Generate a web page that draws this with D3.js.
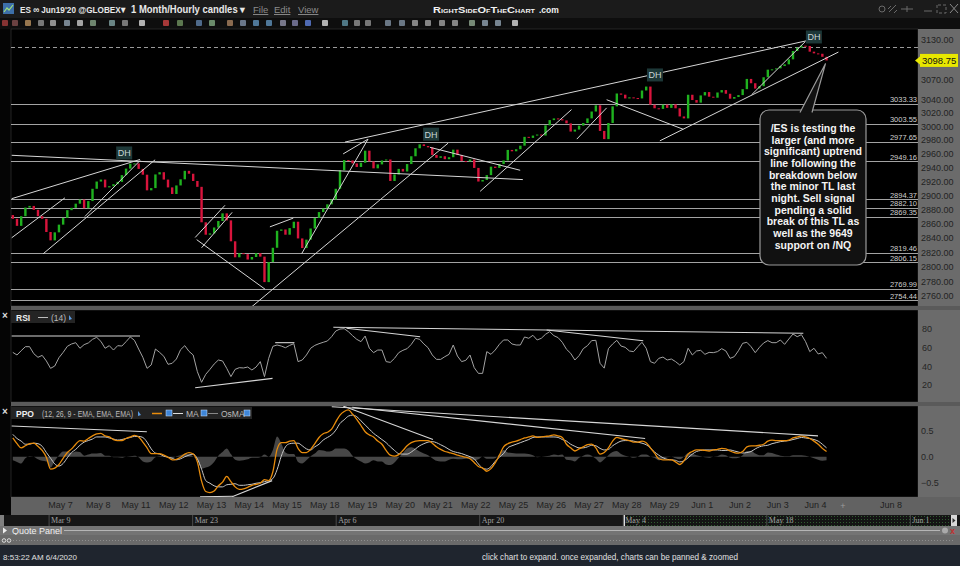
<!DOCTYPE html>
<html><head><meta charset="utf-8"><title>ES Jun19'20 1 Month/Hourly candles</title>
<script src="https://cdn.jsdelivr.net/npm/d3@7/dist/d3.min.js"></script>
<style>html,body{margin:0;padding:0;background:#000;overflow:hidden}svg{display:block}</style>
</head><body><svg id="chart" width="960" height="566"></svg>
<script>
// ================= DATA =================
const dayLabels = ["May 7","May 8","May 11","May 12","May 13","May 14","May 15","May 18","May 19","May 20","May 21","May 22","May 25","May 26","May 27","May 28","May 29","Jun 1","Jun 2","Jun 3","Jun 4","","Jun 8"];
const candlesPerDay = 9;      // one candle per ~2.6 trading hours
const firstCandleDay = -1.25; // session position of the first candle (May 7 = 0)
const firstOpen = 2872;
const closes = [
2866.7,2856.8,2870.4,2882.6,2884.9,2879.4,2870.4,2866.7,2848.2,2836.5,
2847.7,2858.5,2868.0,2878.9,2882.2,2888.1,2894.0,2881.6,2891.8,2909.3,
2919.7,2922.5,2911.3,2913.0,2915.9,2919.2,2928.9,2938.3,2945.4,2945.8,
2937.9,2929.5,2907.1,2910.3,2929.9,2933.1,2922.5,2911.3,2901.9,2914.1,
2922.9,2935.1,2930.9,2920.5,2912.1,2861.8,2844.4,2846.2,2854.5,2863.6,
2874.4,2864.5,2835.2,2813.0,2818.7,2817.4,2809.9,2813.4,2818.7,2813.9,
2778.9,2806.4,2826.2,2849.9,2851.7,2844.4,2853.6,2862.6,2839.2,2825.8,
2837.5,2853.1,2868.0,2876.2,2881.2,2887.2,2894.0,2909.3,2935.9,2950.6,
2950.1,2945.8,2940.7,2946.8,2964.3,2948.7,2938.7,2944.4,2950.1,2951.5,
2920.5,2929.9,2937.9,2934.1,2944.9,2956.2,2967.8,2973.6,2971.1,2969.2,
2958.1,2953.9,2956.2,2951.9,2954.8,2965.8,2958.1,2949.2,2948.7,2951.5,
2939.3,2919.7,2921.9,2928.9,2941.1,2939.3,2944.9,2950.1,2965.4,2963.4,
2966.4,2971.6,2984.5,2983.0,2986.4,2987.9,2986.4,3001.4,3009.2,3011.7,
3010.5,3008.7,3004.4,2992.3,2995.2,3001.0,3004.9,3011.7,3021.9,3031.1,
2993.2,2981.2,3004.9,3029.6,3048.8,3047.0,3041.4,3043.0,3042.0,3041.4,
3053.3,3059.2,3032.1,3026.7,3025.8,3032.1,3027.3,3032.6,3026.7,3014.6,
3011.7,3046.9,3039.0,3035.1,3045.9,3050.9,3044.0,3042.5,3050.3,3053.9,
3048.4,3041.0,3043.5,3046.4,3055.3,3070.7,3064.2,3056.2,3059.7,3073.2,
3084.7,3085.2,3086.7,3090.2,3092.8,3100.4,3113.1,3118.2,3121.2,3120.8,
3112.1,3109.5,3108.9,3104.3,3098.75];
const rsi14 = [
54.9,52.1,56.7,61.0,61.0,53.5,49.6,51.7,45.7,37.8,
40.3,49.2,54.9,61.4,63.9,65.3,59.3,63.2,65.0,68.9,
71.0,66.7,59.3,62.1,57.4,62.1,61.7,66.4,71.4,67.8,
58.5,49.6,37.8,41.4,58.5,54.9,50.7,42.1,43.2,47.8,
57.8,62.1,56.0,52.1,34.2,22.8,31.4,36.7,42.4,46.7,
45.7,37.8,28.9,36.7,38.5,38.2,39.2,36.0,39.2,45.0,
28.9,48.5,61.4,62.8,61.7,59.9,62.4,64.2,45.0,46.7,
52.1,59.3,62.4,64.2,65.7,67.1,71.7,77.8,79.9,80.3,
77.1,72.8,68.9,66.4,72.4,59.3,54.6,57.4,57.4,45.0,
44.2,48.5,54.6,57.1,58.9,63.5,70.0,68.9,63.9,59.9,
52.1,47.4,47.4,50.3,52.8,62.8,51.0,45.0,46.4,52.1,
38.5,32.4,32.4,55.7,52.8,57.4,63.5,68.2,68.2,63.9,
62.8,62.8,71.4,70.0,73.2,68.2,70.0,74.3,77.1,72.8,
70.7,65.7,58.2,53.9,46.7,51.4,58.9,62.1,67.5,67.8,
43.2,38.0,58.9,63.9,67.8,61.7,60.3,56.4,55.7,61.0,
65.7,59.3,45.0,43.2,48.5,49.9,46.7,47.8,45.0,41.4,
45.0,59.3,52.1,56.4,57.1,52.8,54.9,54.6,55.7,58.9,
56.4,48.5,50.3,56.7,64.6,65.7,61.0,54.6,60.3,65.0,
67.5,65.3,65.3,68.2,63.5,69.2,74.6,71.7,73.9,66.4,
55.7,59.3,53.2,54.6,48.5];
const ppoLine = [
0.36,0.25,0.17,0.21,0.25,0.26,0.20,0.12,-0.01,-0.24,
-0.22,-0.15,-0.03,0.08,0.15,0.24,0.31,0.30,0.35,0.40,
0.44,0.45,0.40,0.38,0.33,0.31,0.31,0.35,0.38,0.41,
0.38,0.28,0.17,0.06,0.06,0.06,0.03,-0.01,-0.06,-0.05,
-0.01,0.05,0.08,0.05,-0.10,-0.47,-0.67,-0.69,-0.66,-0.56,
-0.49,-0.38,-0.48,-0.58,-0.63,-0.62,-0.59,-0.55,-0.53,-0.51,
-0.44,-0.46,-0.29,0.14,0.27,0.27,0.30,0.31,0.16,0.08,
0.08,0.14,0.25,0.37,0.44,0.47,0.53,0.67,0.80,0.87,
0.90,0.82,0.72,0.60,0.48,0.42,0.38,0.30,0.24,0.12,
0.03,0.01,0.04,0.12,0.21,0.27,0.30,0.31,0.31,0.31,
0.26,0.19,0.14,0.10,0.08,0.06,0.03,0.01,-0.01,-0.04,
-0.11,-0.19,-0.22,-0.28,-0.23,-0.12,0.03,0.19,0.25,0.28,
0.30,0.33,0.36,0.38,0.40,0.37,0.38,0.39,0.40,0.42,
0.40,0.37,0.24,0.17,0.11,0.15,0.19,0.23,0.24,0.17,
0.05,0.08,0.17,0.30,0.37,0.35,0.33,0.31,0.28,0.28,
0.30,0.27,0.17,0.07,-0.04,-0.06,-0.06,-0.06,-0.10,-0.15,
-0.08,0.05,0.10,0.13,0.13,0.12,0.11,0.13,0.14,0.16,
0.15,0.11,0.08,0.07,0.10,0.19,0.21,0.21,0.22,0.24,
0.30,0.32,0.31,0.31,0.31,0.32,0.36,0.38,0.40,0.38,
0.35,0.30,0.24,0.16,0.10];
const ppoMA = [
0.43,0.35,0.30,0.24,0.24,0.26,0.25,0.20,0.08,-0.03,
-0.14,-0.18,-0.13,-0.02,0.08,0.14,0.22,0.28,0.31,0.34,
0.38,0.38,0.38,0.36,0.34,0.32,0.33,0.35,0.37,0.39,
0.39,0.37,0.28,0.15,0.07,0.05,0.01,-0.01,-0.03,-0.06,
-0.04,0.00,0.03,0.05,-0.04,-0.24,-0.46,-0.51,-0.56,-0.58,
-0.58,-0.54,-0.53,-0.52,-0.55,-0.55,-0.54,-0.53,-0.51,-0.50,
-0.48,-0.46,-0.42,-0.25,0.01,0.19,0.25,0.26,0.26,0.21,
0.15,0.13,0.19,0.24,0.32,0.37,0.42,0.51,0.64,0.71,
0.78,0.80,0.77,0.69,0.61,0.53,0.45,0.39,0.33,0.27,
0.19,0.12,0.06,0.05,0.05,0.09,0.15,0.21,0.25,0.28,
0.29,0.27,0.23,0.19,0.14,0.10,0.08,0.06,0.03,0.00,
-0.04,-0.14,-0.22,-0.24,-0.19,-0.09,-0.01,0.06,0.17,0.21,
0.24,0.27,0.30,0.33,0.37,0.38,0.38,0.38,0.38,0.38,
0.37,0.33,0.30,0.24,0.20,0.17,0.17,0.19,0.22,0.21,
0.16,0.13,0.14,0.21,0.26,0.30,0.31,0.31,0.30,0.28,
0.26,0.23,0.17,0.09,0.03,-0.02,-0.05,-0.06,-0.07,-0.10,
-0.08,-0.02,0.05,0.10,0.12,0.13,0.13,0.13,0.13,0.12,
0.12,0.13,0.11,0.09,0.07,0.08,0.10,0.15,0.19,0.21,
0.22,0.25,0.27,0.29,0.30,0.31,0.33,0.35,0.37,0.36,
0.35,0.33,0.30,0.24,0.17];
const priceTicks = [3130,3070,3040,3020,3000,2980,2960,2940,2920,2900,2880,2860,2840,2820,2800,2780,2760];
const levels = [3033.33,3003.55,2977.65,2949.16,2894.37,2882.10,2869.35,2819.46,2806.15,2769.99,2754.44];
const dashedLevel = 3120;
const lastPrice = 3098.75;
const rsiTicks = [80,60,40,20];
const ppoTicks = [0.5,0,-0.5];
// drawn trendlines: [day, value, day, value]
const priceTrend = [
[-1.28,2957.6,12.26,2922.5],[-1.28,2895.2,2.12,2951.5],[-1.28,2840.1,0.13,2896.4],
[-0.45,2817.7,2.52,2951.1],[0.66,2870.0,2.12,2950.0],[3.58,2840.5,4.37,2885.8],
[3.75,2826.2,4.56,2875.8],[3.62,2837.5,5.43,2769.3],[5.08,2745.5,10.28,2975.3],
[5.56,2855.4,6.18,2867.7],[6.40,2817.9,8.16,2981.2],[7.50,2959.6,8.16,2981.2],
[7.55,2976.9,19.87,3130.0],[9.80,2969.2,12.19,2935.9],[11.13,2905.7,13.55,3024.8],
[13.69,2981.2,14.48,3027.3],[14.48,3039.5,16.51,2995.6],[15.89,2978.7,20.62,3111.5],
[18.32,3046.9,19.74,3127.4]];
const rsiTrend = [[-1.28,72.5,2.12,72.5],[3.58,17.0,5.63,27.0],[5.70,65.3,6.21,65.3],
[7.24,81.8,19.69,75.4],[7.59,80.7,9.54,71.7],[12.89,78.9,15.45,67.4]];
const ppoTrend = [[-1.28,0.59,2.30,0.48],[3.71,-0.77,4.58,-0.76],[4.56,-0.77,5.62,-0.46],
[7.20,0.96,20.08,0.40],[7.50,0.975,9.88,0.33],[7.74,0.95,15.50,0.35]];
const dhMarks = [[1.70,2961],[9.83,2988.4],[15.76,3076.7],[19.97,3134.7]];
const navDates = ["2020-03-09","2020-03-23","2020-04-06","2020-04-20","2020-05-04","2020-05-18","2020-06-01"];
const noteLines = ["/ES is testing the","larger (and more","significant) uptrend","line following the","breakdown below","the minor TL last","night. Sell signal","pending a solid","break of this TL as","well as the 9649","support on /NQ"];

// ================= DRAW =================
const F = "'Liberation Sans', Arial, sans-serif";
const svg = d3.select("#chart").attr("font-family", F);
const L = 11, R = 918;

svg.append("rect").attr("width",960).attr("height",566).attr("fill","#4a4a4a");

// title bar
svg.append("rect").attr("x",0).attr("y",0).attr("width",960).attr("height",18).attr("fill","#1b1b1b");
svg.append("rect").attr("x",3).attr("y",3).attr("width",11).attr("height",11).attr("fill","#3d6fa8");
svg.append("path").attr("d","M4,12 L7,8 L9,10 L13,5").attr("stroke","#9fe07a").attr("fill","none").attr("stroke-width",1.2);
svg.append("text").attr("x",20).attr("y",13).attr("font-size",9.5).attr("font-weight","bold").attr("fill","#e8e8e8")
  .attr("textLength",105).attr("lengthAdjust","spacingAndGlyphs").text("ES \u221E Jun19'20 @GLOBEX\u25BE");
svg.append("text").attr("x",131).attr("y",13).attr("font-size",10).attr("font-weight","bold").attr("fill","#e8e8e8")
  .attr("textLength",114).attr("lengthAdjust","spacingAndGlyphs").text("1 Month/Hourly candles \u25BE");
[["File",253],["Edit",274],["View",298]].forEach(([t,xx])=>{
  svg.append("text").attr("x",xx).attr("y",13).attr("font-size",9.5).attr("fill","#8c8c8c").attr("text-decoration","underline").text(t);
});
svg.append("text").attr("x",433).attr("y",13).attr("font-weight","bold").attr("fill","#f2f2f2").attr("font-size",9.2)
  .style("font-variant","small-caps").attr("textLength",102).attr("lengthAdjust","spacingAndGlyphs").text("RightSideOfTheChart");
svg.append("text").attr("x",539).attr("y",13).attr("font-size",8.5).attr("font-weight","bold").attr("fill","#f2f2f2").text(".com");
// window icons
const ic = svg.append("g").attr("stroke","#6a6a6a").attr("fill","none").attr("stroke-width",1);
ic.append("circle").attr("cx",882).attr("cy",9).attr("r",3);
ic.append("path").attr("d","M889,12 L896,5 M888,9 L891,6 M894,13 L897,10");
ic.append("path").attr("d","M901,9 L913,9 M907,6 L907,12");
ic.append("path").attr("d","M924,11 L932,11");
ic.append("path").attr("d","M937,5 L937,13 L946,13 L946,5 Z").attr("stroke-dasharray","3,2");
ic.append("path").attr("d","M950,4 L958,13 M958,4 L950,13").attr("stroke","#8a8a8a");

// toolbar
svg.append("rect").attr("x",0).attr("y",18).attr("width",960).attr("height",11).attr("fill","#0e0e0e");
const tbX = [5,15,28,41,53,67,80,93,112,125,142,166,180,199,212,230,243,256,269,283,295,308,325,345,357,368,388,402,415,428,442,455,472,485,498,515];
const tbC = ["#9a3a3a","#7a4a4a","#b08a5a","#8a8a8a","#a8a8a8","#8a9aa8","#bdbdbd","#7f9a7f","#7a9a9a","#8a8a8a","#cfcfcf","#c04040","#6a8a5a","#5a7aa0","#7aa07a","#a07a5a","#7a8aa0","#5a8ab0","#5a8ab0","#8a8aa0","#7a7aa0","#5a7ad0","#cfcfcf","#5a8a9a","#8a8a8a","#8a8a8a","#7a8a9a","#7a8a9a","#9a9a9a","#9a9a9a","#9a9a9a","#9a9a9a","#8aa08a","#8a9aa8","#8a9aa8","#cfcfcf"];
tbX.forEach((xx,i)=>svg.append("rect").attr("x",xx-3).attr("y",20).attr("width",6).attr("height",6).attr("rx",1).attr("fill",tbC[i]).attr("opacity",0.85));

// panel frames
const panels = [[29,306],[310,402],[406,497]];
svg.append("rect").attr("x",0).attr("y",29).attr("width",L).attr("height",486).attr("fill","#050505");
panels.forEach(([a,b])=>{
  svg.append("rect").attr("x",L).attr("y",a).attr("width",R-L).attr("height",b-a).attr("fill","#000").attr("stroke","#3a3a3a").attr("stroke-width",0.6);
  svg.append("rect").attr("x",R).attr("y",a).attr("width",960-R).attr("height",b-a).attr("fill","#6b6b6b");
});
svg.append("rect").attr("x",L).attr("y",306).attr("width",960-L).attr("height",4).attr("fill","#5a5a5a");
svg.append("rect").attr("x",L).attr("y",402).attr("width",960-L).attr("height",4).attr("fill","#5a5a5a");
svg.append("rect").attr("x",L).attr("y",497).attr("width",960-L).attr("height",18).attr("fill","#626262");

// scales
const x = d3.scaleLinear().domain([-1.298, 22.728]).range([L, R]);
const yP = d3.scaleLog().domain([2760, 3130]).range([296, 40]);
const yR = d3.scaleLinear().domain([0, 100]).range([403.6, 310.3]);
const yO = d3.scaleLinear().domain([-0.5, 0.5]).range([482.7, 430.7]);
const tAt = i => firstCandleDay + i / candlesPerDay;

const defs = svg.append("defs");
panels.forEach(([a,b],k)=>defs.append("clipPath").attr("id","cp"+k).append("rect").attr("x",L).attr("y",a).attr("width",R-L).attr("height",b-a));

// ---------- price panel ----------
const gP = svg.append("g").attr("clip-path","url(#cp0)");
gP.selectAll("line.lv").data(levels).join("line").attr("class","lv")
  .attr("x1",L).attr("x2",R).attr("y1",d=>Math.round(yP(d))+0.5).attr("y2",d=>Math.round(yP(d))+0.5)
  .attr("stroke","#a3a3a3").attr("stroke-width",1);
gP.append("line").attr("x1",L).attr("x2",R).attr("y1",Math.round(yP(dashedLevel))+0.5).attr("y2",Math.round(yP(dashedLevel))+0.5)
  .attr("stroke","#9a9a9a").attr("stroke-dasharray","4,3");
gP.selectAll("text.lvl").data(levels).join("text").attr("class","lvl")
  .attr("x",R-1).attr("y",d=>yP(d)-1.5).attr("text-anchor","end").attr("font-size",7.5).attr("fill","#d0d0d0")
  .text(d=>d.toFixed(2));

const candles = closes.map((c,i)=>({t:tAt(i), o: i ? closes[i-1] : firstOpen, c}));
const cw = 2.4;
gP.selectAll("rect.cd").data(candles).join("rect").attr("class","cd")
  .attr("x",d=>x(d.t)-cw/2).attr("width",cw)
  .attr("y",d=>yP(Math.max(d.o,d.c))).attr("height",d=>Math.max(1,Math.abs(yP(d.o)-yP(d.c))))
  .attr("fill",d=>d.c>=d.o ? "#1fb21f" : "#d8143c");

gP.selectAll("line.tr").data(priceTrend).join("line").attr("class","tr")
  .attr("x1",d=>x(d[0])).attr("y1",d=>yP(d[1])).attr("x2",d=>x(d[2])).attr("y2",d=>yP(d[3]))
  .attr("stroke","#d6d6d6").attr("stroke-width",1);

const dh = gP.selectAll("g.dh").data(dhMarks).join("g").attr("class","dh")
  .attr("transform",d=>`translate(${x(d[0])},${yP(d[1])})`);
dh.append("rect").attr("x",-8).attr("y",-6.5).attr("width",16).attr("height",13).attr("fill","#1d3838");
dh.append("text").attr("y",3.3).attr("text-anchor","middle").attr("font-size",9).attr("fill","#c9d6d6").text("DH");

// price axis
const axP = svg.append("g").attr("transform",`translate(${R},0)`)
  .call(d3.axisRight(yP).tickValues(priceTicks).tickFormat(d3.format(".2f")).tickSize(0).tickPadding(3));
axP.select(".domain").remove();
axP.selectAll("text").attr("font-size",9).attr("font-family",F).attr("fill","#232323");
const lpY = yP(lastPrice);
svg.append("path").attr("d",`M${R-3},${lpY} L${R+2},${lpY-4} L${R+2},${lpY+4} Z`).attr("fill","#e8e800");
svg.append("rect").attr("x",R+2).attr("y",lpY-6.5).attr("width",38).attr("height",13).attr("fill","#e8e800");
svg.append("text").attr("x",R+4).attr("y",lpY+3.5).attr("font-size",9.5).attr("fill","#111").text(lastPrice.toFixed(2));

// callout
const n = closes.length;
const tipX = x(tAt(n-1)) - 1, tipY = yP(closes[n-1]) + 3;
svg.append("rect").attr("x",760).attr("y",110).attr("width",106).attr("height",155).attr("rx",9)
  .attr("fill","#111").attr("stroke","#9a9a9a").attr("stroke-width",1.2);
svg.append("path").attr("d",`M800,112.5 L${tipX},${tipY} L812,112.5`).attr("fill","#111").attr("stroke","#9a9a9a").attr("stroke-width",1.2);
svg.append("g").selectAll("text").data(noteLines).join("text")
  .attr("x",813).attr("y",(d,i)=>132+i*11.67).attr("text-anchor","middle")
  .attr("font-size",10.5).attr("font-weight","bold").attr("fill","#f4f4f4").text(d=>d);

// ---------- RSI panel ----------
const gR = svg.append("g").attr("clip-path","url(#cp1)");
gR.append("path").datum(rsi14).attr("fill","none").attr("stroke","#a2a2a2").attr("stroke-width",1)
  .attr("d",d3.line().x((d,i)=>x(tAt(i))).y(d=>yR(d)));
gR.selectAll("line.tr").data(rsiTrend).join("line").attr("class","tr")
  .attr("x1",d=>x(d[0])).attr("y1",d=>yR(d[1])).attr("x2",d=>x(d[2])).attr("y2",d=>yR(d[3]))
  .attr("stroke","#d6d6d6").attr("stroke-width",1.1);
const axR = svg.append("g").attr("transform",`translate(${R},0)`)
  .call(d3.axisRight(yR).tickValues(rsiTicks).tickSize(0).tickPadding(4));
axR.select(".domain").remove();
axR.selectAll("text").attr("font-size",9).attr("font-family",F).attr("fill","#262626");
svg.append("rect").attr("x",L).attr("y",311).attr("width",64).attr("height",12).attr("fill","#242424");
svg.append("text").attr("x",16).attr("y",320.5).attr("font-size",8.5).attr("font-weight","bold").attr("fill","#eee").text("RSI");
svg.append("line").attr("x1",38).attr("x2",48).attr("y1",317.5).attr("y2",317.5).attr("stroke","#bbb");
svg.append("text").attr("x",51).attr("y",320.5).attr("font-size",8.5).attr("fill","#bbb").text("(14)");
svg.append("path").attr("d","M69,315 L72,319 L69,320 Z").attr("fill","#5a9ae0");
svg.append("text").attr("x",5).attr("y",318.5).attr("text-anchor","middle").attr("font-size",10).attr("font-weight","bold").attr("fill","#ddd").text("\u00D7");

// ---------- PPO panel ----------
const gO = svg.append("g").attr("clip-path","url(#cp2)");
const hist = ppoLine.map((v,i)=>v - ppoMA[i]);
gO.append("path").datum(hist).attr("fill","#474747")
  .attr("d",d3.area().x((d,i)=>x(tAt(i))).y0(yO(0)).y1(d=>yO(d)).curve(d3.curveMonotoneX));
gO.append("path").datum(ppoMA).attr("fill","none").attr("stroke","#c9c9c9").attr("stroke-width",1)
  .attr("d",d3.line().x((d,i)=>x(tAt(i))).y(d=>yO(d)).curve(d3.curveMonotoneX));
gO.append("path").datum(ppoLine).attr("fill","none").attr("stroke","#e88c0c").attr("stroke-width",1.3)
  .attr("d",d3.line().x((d,i)=>x(tAt(i))).y(d=>yO(d)).curve(d3.curveMonotoneX));
gO.selectAll("line.tr").data(ppoTrend).join("line").attr("class","tr")
  .attr("x1",d=>x(d[0])).attr("y1",d=>yO(d[1])).attr("x2",d=>x(d[2])).attr("y2",d=>yO(d[3]))
  .attr("stroke","#d6d6d6").attr("stroke-width",1.1);
const axO = svg.append("g").attr("transform",`translate(${R},0)`)
  .call(d3.axisRight(yO).tickValues(ppoTicks).tickFormat(d3.format(".1f")).tickSize(0).tickPadding(3));
axO.select(".domain").remove();
axO.selectAll("text").attr("font-size",9).attr("font-family",F).attr("fill","#262626");
svg.append("rect").attr("x",L).attr("y",407).attr("width",241).attr("height",12).attr("fill","#242424");
svg.append("text").attr("x",16).attr("y",416.5).attr("font-size",8.5).attr("font-weight","bold").attr("fill","#eee").text("PPO");
svg.append("text").attr("x",42).attr("y",416.5).attr("font-size",8.5).attr("fill","#bbb")
  .attr("textLength",91).attr("lengthAdjust","spacingAndGlyphs").text("(12, 26, 9 - EMA, EMA, EMA)");
svg.append("path").attr("d","M138,411 L141,415 L138,416 Z").attr("fill","#5a9ae0");
svg.append("line").attr("x1",152).attr("x2",162).attr("y1",413.5).attr("y2",413.5).attr("stroke","#e88c0c").attr("stroke-width",1.5);
svg.append("line").attr("x1",173).attr("x2",183).attr("y1",413.5).attr("y2",413.5).attr("stroke","#ddd");
svg.append("text").attr("x",186).attr("y",416.5).attr("font-size",8.5).attr("fill","#bbb").text("MA");
svg.append("line").attr("x1",208).attr("x2",218).attr("y1",413.5).attr("y2",413.5).attr("stroke","#888");
svg.append("text").attr("x",221).attr("y",416.5).attr("font-size",8.5).attr("fill","#bbb").text("OsMA");
[166,201,244].forEach(xx=>svg.append("rect").attr("x",xx).attr("y",410).attr("width",6).attr("height",6).attr("fill","#3f86d8").attr("stroke","#cfe3ff").attr("stroke-width",0.5));
svg.append("text").attr("x",5).attr("y",414.5).attr("text-anchor","middle").attr("font-size",10).attr("font-weight","bold").attr("fill","#ddd").text("\u00D7");

// ---------- date axis ----------
const tickIdx = dayLabels.map((d,i)=>i).filter(i=>dayLabels[i] !== "");
const axD = svg.append("g").attr("transform","translate(0,497)")
  .call(d3.axisBottom(x).tickValues(tickIdx).tickFormat(i=>dayLabels[i]).tickSize(0).tickPadding(5));
axD.select(".domain").remove();
axD.selectAll("text").attr("font-size",9).attr("font-family",F).attr("fill","#1f1f1f");
svg.append("text").attr("x",x(20.74)).attr("y",509).attr("text-anchor","middle").attr("font-size",9).attr("fill","#9a9a9a").text("+");

// ---------- navigator ----------
svg.append("rect").attr("x",0).attr("y",515).attr("width",960).attr("height",11).attr("fill","#161616");
const pat = defs.append("pattern").attr("id","dots").attr("width",3).attr("height",3).attr("patternUnits","userSpaceOnUse");
pat.append("rect").attr("width",3).attr("height",3).attr("fill","#141414");
pat.append("rect").attr("width",1).attr("height",1).attr("fill","#2f5a2f");
const navX = d3.scaleTime().domain([new Date(2020,2,5,8), new Date(2020,5,4,22)]).range([L, 950]);
const parse = d3.timeParse("%Y-%m-%d");
const selX = navX(new Date(2020,4,4,3));
svg.append("rect").attr("x",selX).attr("y",516).attr("width",950-selX).attr("height",10).attr("fill","url(#dots)");
svg.append("rect").attr("x",selX-1).attr("y",515).attr("width",2).attr("height",11).attr("fill","#ddd");
const nav = svg.append("g").attr("transform","translate(0,515)")
  .call(d3.axisBottom(navX).tickValues(navDates.map(parse)).tickFormat(d3.timeFormat("%b %-d")).tickSize(11).tickPadding(-9));
nav.select(".domain").remove();
nav.selectAll("line").attr("stroke","#4a4a4a");
nav.selectAll("text").attr("font-family","'Liberation Serif', serif").attr("font-size",8).attr("fill","#a0a0a0").attr("text-anchor","start").attr("dx",2);
svg.append("rect").attr("x",0).attr("y",515).attr("width",4).attr("height",11).attr("fill","#808080");
svg.append("rect").attr("x",951).attr("y",515).attr("width",6).attr("height",11).attr("fill","#d8d8d8");
svg.append("path").attr("d","M952.5,518 L955.5,520.5 L952.5,523 Z").attr("fill","#333");

// ---------- quote panel & status ----------
svg.append("rect").attr("x",0).attr("y",526).attr("width",960).attr("height",9).attr("fill","#747474");
svg.append("path").attr("d","M3,527.5 L7,530.5 L3,533.5 Z").attr("fill","#eee");
svg.append("text").attr("x",12).attr("y",533.5).attr("font-size",9).attr("fill","#f0f0f0").text("Quote Panel");
svg.append("line").attr("x1",64).attr("x2",940).attr("y1",530.5).attr("y2",530.5).attr("stroke","#b5b5b5");
svg.append("circle").attr("cx",945).attr("cy",530.5).attr("r",3).attr("fill","#aaa");
svg.append("text").attr("x",950).attr("y",534).attr("font-size",9).attr("font-weight","bold").attr("fill","#c03030").text("x");
svg.append("rect").attr("x",0).attr("y",535).attr("width",960).attr("height",10).attr("fill","#6a6a6a");
svg.append("line").attr("x1",13).attr("x2",955).attr("y1",540.5).attr("y2",540.5).attr("stroke","#8e8e8e").attr("stroke-dasharray","1,2");
svg.append("circle").attr("cx",4).attr("cy",540.5).attr("r",1.8).attr("fill","none").attr("stroke","#ddd");
svg.append("circle").attr("cx",9).attr("cy",540.5).attr("r",1.8).attr("fill","none").attr("stroke","#ddd");
svg.append("rect").attr("x",0).attr("y",545).attr("width",960).attr("height",21).attr("fill","#1f252e");
svg.append("text").attr("x",3).attr("y",560).attr("font-size",8).attr("fill","#e0e0e0")
  .attr("textLength",74).attr("lengthAdjust","spacingAndGlyphs").text("8:53:22 AM 6/4/2020");
svg.append("text").attr("x",482).attr("y",560).attr("font-size",8.5).attr("fill","#e0e0e0")
  .attr("textLength",256).attr("lengthAdjust","spacingAndGlyphs").text("click chart to expand. once expanded, charts can be panned & zoomed");
</script></body></html>
